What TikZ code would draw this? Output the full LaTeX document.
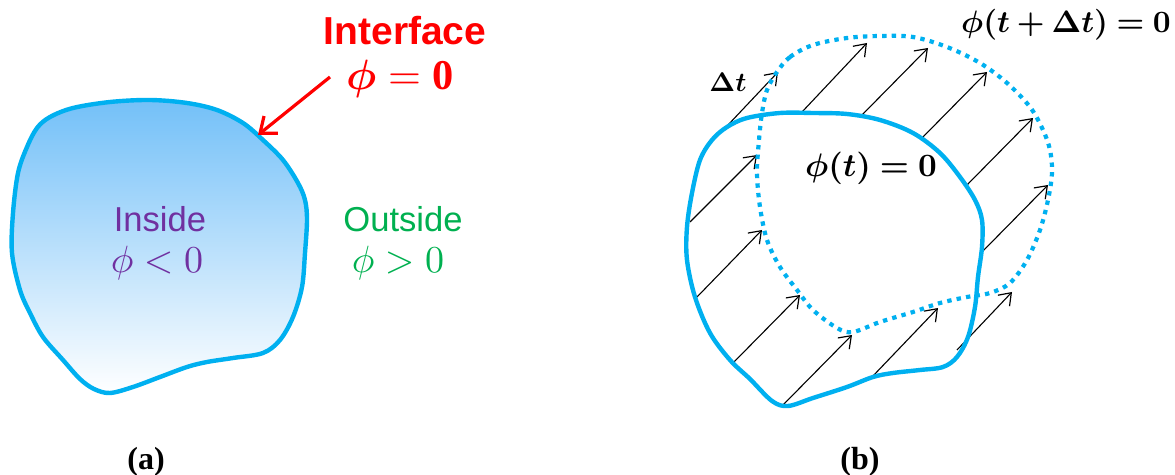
\documentclass[tikz,border=0pt]{standalone}
\usepackage{bm}
\usepackage{fontspec}
\setmainfont{Liberation Serif}
\newfontfamily\arialfont{Liberation Sans}
\usetikzlibrary{arrows.meta}
\definecolor{iblue}{RGB}{0,176,240}
\definecolor{ired}{RGB}{255,0,0}
\definecolor{ipurple}{RGB}{112,48,160}
\definecolor{igreen}{RGB}{0,176,80}
\definecolor{ifill}{RGB}{115,192,248}
\definecolor{imid}{RGB}{200,230,251}
\begin{document}
\begin{tikzpicture}[x=0.5pt,y=-0.5pt,
  blob/.style={draw=iblue,line width=2.2pt,line join=round},
  dotblob/.style={draw=iblue,line width=2.1pt,dash pattern=on 2.2pt off 2.6pt},
  vel/.style={black,line width=0.55pt,-{Straight Barb[length=5.5pt,width=8pt,line width=0.6pt]}},
  lbl/.style={inner sep=0pt,font=\fontsize{16}{18}\selectfont\bfseries},
  sans/.style={inner sep=0pt,font=\arialfont\fontsize{17.3}{20}\selectfont},
  mth/.style={inner sep=0pt,font=\fontsize{10}{12}\selectfont}]
\useasboundingbox (0,0) rectangle (1175,475);
% ---------- (a) ----------
\path[blob,top color=ifill,middle color=imid,bottom color=white]
  plot[smooth cycle,tension=0.55] coordinates{
  (12,253) (13,213) (18,173) (27,147) (37,128) (50,117) (73,108) (110,102)
  (150,100) (187,103) (217,110) (243,123) (263,140) (283,160) (298,183)
  (305,200) (307,220) (305,253) (302,287) (293,317) (280,340) (263,353)
  (233,358) (207,362) (187,367) (160,377) (133,387) (110,393) (94,389)
  (80,379) (63,360) (43,337) (30,313) (20,290)};
\node[sans,font=\arialfont\bfseries\fontsize{19.5}{22}\selectfont,text=ired] (interface) at (405,31) {Interface};
\node[mth,scale=2.12,text=ired] (zero) at (400,79) {$\bm{\phi}=\mathbf{0}$};
\coordinate (hit) at (258,135);
\draw[ired,line width=1.6pt,-{Straight Barb[length=7pt,width=11pt,line width=1.6pt]}] (330,77) -- (hit);
\node[sans,text=ipurple] (inside) at (160,219) {Inside};
\node[mth,scale=1.9,text=ipurple] (insphi) at (157,263) {$\phi<0$};
\node[sans,text=igreen] (outside) at (403,219) {Outside};
\node[mth,scale=1.9,text=igreen] (outphi) at (398,263) {$\phi>0$};
\node[lbl] (la) at (146,462) {(a)};
% ---------- (b) ----------
\draw[vel] (728,125) -- (778,72);
\draw[vel] (802,112) -- (867,43);
\draw[vel] (862,115) -- (928,48);
\draw[vel] (922,138) -- (987,72);
\draw[vel] (967,185) -- (1033,118);
\draw[vel] (982,252) -- (1048,185);
\draw[vel] (957,350) -- (1012,292);
\draw[vel] (872,377) -- (938,308);
\draw[vel] (783,405) -- (852,335);
\draw[vel] (733,363) -- (800,295);
\draw[vel] (697,297) -- (762,230);
\draw[vel] (690,222) -- (757,155);
\draw[dotblob] plot[smooth cycle,tension=0.55] coordinates{
  (777,72) (790,57) (813,45) (847,38) (880,36) (913,37) (947,47) (980,63)
  (1007,83) (1030,107) (1043,130) (1050,150) (1052,173) (1048,200)
  (1040,230) (1027,260) (1010,283) (990,293) (967,297) (940,303) (913,312)
  (880,322) (853,332) (837,328) (813,310) (797,290) (780,267) (767,240)
  (760,207) (757,173) (759,140) (762,113) (767,90)};
\draw[blob] plot[smooth cycle,tension=0.55] coordinates{
  (727,127) (747,118) (780,113) (813,113) (847,114) (880,120) (913,133)
  (940,153) (960,177) (975,200) (982,220) (982,247) (978,277) (975,307)
  (968,337) (957,357) (943,367) (920,370) (893,373) (873,377) (847,387)
  (813,398) (788,406) (772,401) (750,379) (730,360) (710,333) (695,297)
  (687,260) (687,227) (692,193) (700,160) (712,140)};
\node[mth,scale=1.35] (dt) at (728,82) {$\bm{\Delta t}$};
\node[mth,scale=1.55] (phinew) at (1066,25) {$\bm{\phi(t+\Delta t)=0}$};
\node[mth,scale=1.63] (phiold) at (871,168) {$\bm{\phi(t)=0}$};
\node[lbl] (lb) at (860,462) {(b)};
\end{tikzpicture}
\end{document}
